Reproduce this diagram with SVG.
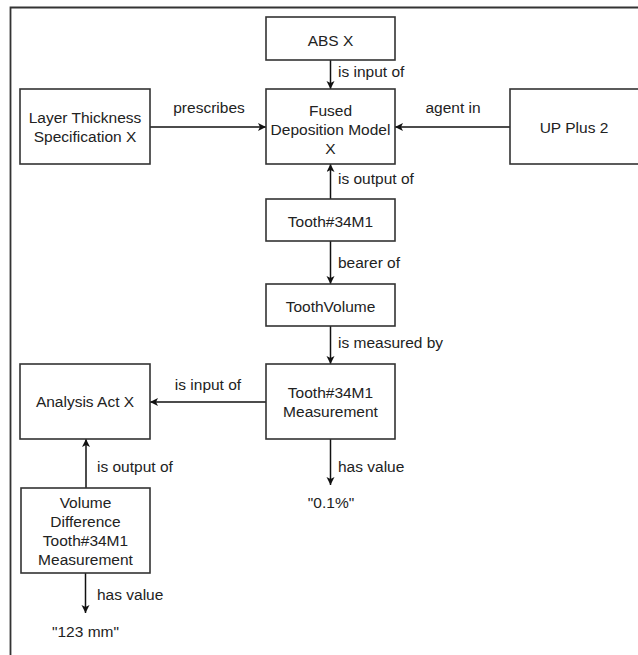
<svg xmlns="http://www.w3.org/2000/svg" width="638" height="655" viewBox="0 0 638 655">
<style>
.box{fill:#fff;stroke:#333;stroke-width:1.6}
.t{font-family:"Liberation Sans",Arial,sans-serif;font-size:15.5px;fill:#222}
.c{text-anchor:middle}
.edge{fill:none;stroke:#111;stroke-width:1.5}
.frame{fill:none;stroke:#333;stroke-width:1.8}
</style>
<defs>
<marker id="arr" markerUnits="userSpaceOnUse" markerWidth="10" markerHeight="10" refX="8" refY="4" orient="auto">
<path d="M0,0 L8,4 L0,8 L2,4 z" fill="#111"/>
</marker>
</defs>
<rect width="638" height="655" fill="#fff"/>
<path class="frame" d="M10.5,655 V7.5 H638"/>

<g id="edges">
<path class="edge" d="M330.5,60 V89" marker-end="url(#arr)"/>
<text class="t" x="338" y="77">is input of</text>
<path class="edge" d="M150,127 H266" marker-end="url(#arr)"/>
<text class="t c" x="209" y="113">prescribes</text>
<path class="edge" d="M510,127 H395" marker-end="url(#arr)"/>
<text class="t c" x="453" y="113">agent in</text>
<path class="edge" d="M330.5,199 V164" marker-end="url(#arr)"/>
<text class="t" x="338" y="184">is output of</text>
<path class="edge" d="M330.5,241 V284" marker-end="url(#arr)"/>
<text class="t" x="338" y="268">bearer of</text>
<path class="edge" d="M330.5,326 V364" marker-end="url(#arr)"/>
<text class="t" x="338" y="348">is measured by</text>
<path class="edge" d="M266,402 H150" marker-end="url(#arr)"/>
<text class="t c" x="208" y="390">is input of</text>
<path class="edge" d="M330.5,439 V485" marker-end="url(#arr)"/>
<text class="t" x="338" y="472">has value</text>
<path class="edge" d="M86,488 V439" marker-end="url(#arr)"/>
<text class="t" x="97" y="472">is output of</text>
<path class="edge" d="M85.5,573 V613" marker-end="url(#arr)"/>
<text class="t" x="97" y="600">has value</text>
</g>

<g id="abs">
<rect class="box" x="266" y="17" width="129" height="43"/>
<text class="t c" x="330.5" y="46">ABS X</text>
</g>
<g id="fdm">
<rect class="box" x="266" y="89" width="129" height="75"/>
<text class="t c" x="330.5" y="116">Fused</text>
<text class="t c" x="330.5" y="135">Deposition Model</text>
<text class="t c" x="330.5" y="154">X</text>
</g>
<g id="layer">
<rect class="box" x="20" y="89" width="130" height="75"/>
<text class="t c" x="85" y="123">Layer Thickness</text>
<text class="t c" x="85" y="142">Specification X</text>
</g>
<g id="upplus">
<rect class="box" x="510" y="89" width="130" height="75"/>
<text class="t c" x="574" y="133">UP Plus 2</text>
</g>
<g id="tooth">
<rect class="box" x="266" y="199" width="129" height="42"/>
<text class="t c" x="330.5" y="227">Tooth#34M1</text>
</g>
<g id="toothvolume">
<rect class="box" x="266" y="284" width="129" height="42"/>
<text class="t c" x="330.5" y="312">ToothVolume</text>
</g>
<g id="measurement">
<rect class="box" x="266" y="364" width="129" height="75"/>
<text class="t c" x="330.5" y="398">Tooth#34M1</text>
<text class="t c" x="330.5" y="417">Measurement</text>
</g>
<g id="analysis">
<rect class="box" x="20" y="364" width="130" height="75"/>
<text class="t c" x="85" y="407">Analysis Act X</text>
</g>
<g id="voldiff">
<rect class="box" x="21" y="488" width="129" height="85"/>
<text class="t c" x="85.5" y="508">Volume</text>
<text class="t c" x="85.5" y="527">Difference</text>
<text class="t c" x="85.5" y="546">Tooth#34M1</text>
<text class="t c" x="85.5" y="565">Measurement</text>
</g>
<g id="val1">
<text class="t c" x="331" y="508">"0.1%"</text>
</g>
<g id="val2">
<text class="t c" x="85.5" y="637">"123 mm"</text>
</g>
</svg>
